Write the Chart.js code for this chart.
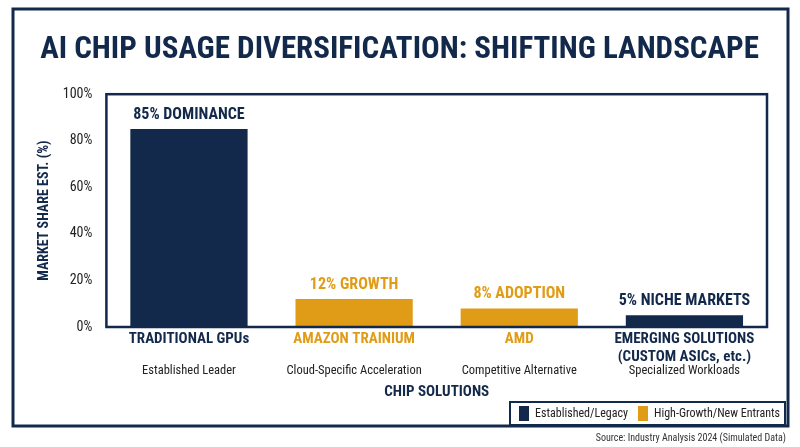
<!DOCTYPE html>
<html><head><meta charset="utf-8">
<script src="https://cdn.jsdelivr.net/npm/chart.js@4"></script>
<style>html,body{margin:0;padding:0;background:#fff}#w{width:800px;height:447px}</style>
</head><body><div id="w"><canvas id="c"></canvas></div>
<script>
const categories = ["TRADITIONAL GPUs", ["AMAZON TRAINIUM"], ["AMD"], ["EMERGING SOLUTIONS", "(CUSTOM ASICs, etc.)"]];
const subtitles = ["Established Leader", "Cloud-Specific Acceleration", "Competitive Alternative", "Specialized Workloads"];
const shares = [85, 12, 8, 5];
const barLabels = ["85% DOMINANCE", "12% GROWTH", "8% ADOPTION", "5% NICHE MARKETS"];
const groups = ["legacy", "growth", "growth", "legacy"];
const yTicks = [0, 20, 40, 60, 80, 100];

const NAVY = "#13294b", GOLD = "#e19c17";
const F = "'Liberation Sans Narrow', 'Roboto Condensed', Roboto, sans-serif";
const colorOf = g => g === "legacy" ? NAVY : GOLD;

const deco = {
  id: "deco",
  beforeDraw(ch) {
    const c = ch.ctx;
    c.save();
    c.strokeStyle = NAVY; c.lineWidth = 3;
    c.strokeRect(13, 9, 775, 417);
    c.restore();
  },
  afterDraw(ch) {
    const c = ch.ctx, a = ch.chartArea, x = ch.scales.x, y = ch.scales.y;
    c.save();
    c.strokeStyle = NAVY; c.lineWidth = 2.5;
    c.strokeRect(a.left, a.top, a.right - a.left, a.bottom - a.top);
    c.textAlign = "center";
    shares.forEach((v, i) => {
      const px = x.getPixelForValue(i), col = colorOf(groups[i]);
      c.fillStyle = col; c.textBaseline = "bottom";
      c.font = "bold 16px " + F;
      c.fillText(barLabels[i], px, y.getPixelForValue(v) - 6);
      c.textBaseline = "middle";
      c.fillStyle = i === 0 || i === 3 ? NAVY : GOLD;
      const lines = Array.isArray(categories[i]) ? categories[i] : [categories[i]];
      c.font = "bold 15px " + F;
      lines.forEach((t, k) => c.fillText(t, px, 339 + k * 18));
      c.fillStyle = "#222"; c.font = "12.5px " + F;
      c.fillText(subtitles[i], px, 371);
    });
    c.fillStyle = NAVY; c.font = "bold 15px " + F;
    c.fillText("CHIP SOLUTIONS", (a.left + a.right) / 2, 392);
    // legend
    c.strokeStyle = NAVY; c.lineWidth = 2;
    c.strokeRect(510, 402, 275, 23);
    c.font = "12px " + F; c.textAlign = "left";
    c.fillStyle = NAVY; c.fillRect(519, 406, 10, 15);
    c.fillStyle = "#222"; c.fillText("Established/Legacy", 535, 414);
    c.fillStyle = GOLD; c.fillRect(638, 406, 10, 15);
    c.fillStyle = "#222"; c.fillText("High-Growth/New Entrants", 654, 414);
    c.font = "10px " + F; c.textAlign = "right"; c.fillStyle = "#333";
    c.fillText("Source: Industry Analysis 2024 (Simulated Data)", 786, 438);
    c.restore();
  }
};

new Chart(document.getElementById("c"), {
  type: "bar",
  data: { labels: categories.map(l => Array.isArray(l) ? l.join(" ") : l),
    datasets: [{ data: shares, backgroundColor: groups.map(colorOf), barPercentage: 0.71, categoryPercentage: 1 }] },
  options: {
    responsive: true, maintainAspectRatio: false, animation: false,
    layout: { padding: { top: 10, left: 32, right: 33, bottom: 112 } },
    plugins: {
      legend: { display: false }, tooltip: { enabled: false },
      title: { display: true, text: "AI CHIP USAGE DIVERSIFICATION: SHIFTING LANDSCAPE", color: NAVY,
        font: { family: F, size: 31, weight: "bold" }, padding: { top: 22, bottom: 25 } }
    },
    scales: {
      x: { ticks: { display: false }, grid: { display: false }, border: { display: false } },
      y: { min: 0, max: 100, afterBuildTicks: s => { s.ticks = yTicks.map(v => ({ value: v })); },
        ticks: { color: "#222", font: { family: F, size: 14 }, callback: v => v + "%", padding: 6 },
        grid: { display: false }, border: { display: false },
        title: { display: true, text: "MARKET SHARE EST. (%)", color: NAVY, font: { family: F, size: 14, weight: "bold" } } }
    }
  },
  plugins: [deco]
});
</script></body></html>
